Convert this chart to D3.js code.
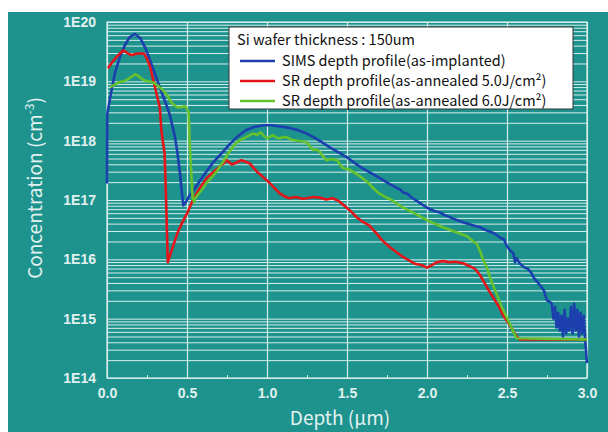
<!DOCTYPE html>
<html>
<head>
<meta charset="utf-8">
<script src="https://cdn.jsdelivr.net/npm/d3@7"></script>
<style>
  body { margin: 0; background: #fff; }
  svg { display: block; }
</style>
</head>
<body>
<script>
const width = 608;
const height = 432;

const simsDepth = [0.000, 0.002, 0.02, 0.05, 0.08, 0.11, 0.14, 0.175, 0.21, 0.24, 0.27, 0.30, 0.33, 0.36, 0.39, 0.425, 0.44, 0.456, 0.465, 0.477, 0.49, 0.51, 0.54, 0.60, 0.66, 0.72, 0.77, 0.82, 0.87, 0.92, 0.98, 1.03, 1.08, 1.13, 1.19, 1.24, 1.29, 1.34, 1.39, 1.45, 1.50, 1.55, 1.60, 1.66, 1.71, 1.76, 1.80, 1.83, 1.85, 1.88, 1.90, 1.95, 2.00, 2.05, 2.08, 2.10, 2.16, 2.22, 2.28, 2.33, 2.37, 2.42, 2.46, 2.48, 2.50, 2.52, 2.54, 2.55, 2.56, 2.58, 2.61, 2.63, 2.65, 2.67, 2.69, 2.71, 2.73, 2.75, 2.77, 2.78, 2.79, 2.80, 2.81, 2.82, 2.83, 2.84, 2.85, 2.86, 2.87, 2.88, 2.89, 2.90, 2.91, 2.92, 2.93, 2.94, 2.95, 2.96, 2.97, 2.98, 2.99, 3.00];
const simsLog = [17.28, 18.45, 18.73, 19.15, 19.40, 19.60, 19.74, 19.80, 19.72, 19.56, 19.35, 19.12, 18.90, 18.68, 18.46, 18.06, 17.80, 17.45, 17.20, 16.91, 16.95, 17.05, 17.16, 17.40, 17.62, 17.80, 17.95, 18.08, 18.18, 18.23, 18.26, 18.26, 18.24, 18.22, 18.18, 18.13, 18.06, 17.98, 17.89, 17.80, 17.72, 17.62, 17.53, 17.44, 17.36, 17.28, 17.22, 17.18, 17.13, 17.10, 17.05, 16.96, 16.87, 16.81, 16.79, 16.76, 16.69, 16.63, 16.58, 16.54, 16.49, 16.44, 16.36, 16.34, 16.22, 16.15, 16.10, 15.95, 16.02, 15.93, 15.86, 15.84, 15.78, 15.68, 15.62, 15.55, 15.48, 15.31, 15.28, 15.25, 15.00, 15.20, 14.85, 15.10, 14.80, 15.05, 14.70, 15.15, 14.75, 15.00, 14.80, 15.20, 14.75, 15.25, 14.80, 15.15, 14.70, 15.10, 14.75, 15.05, 14.60, 14.25];

const sr5Depth = [0.006, 0.04, 0.06, 0.10, 0.12, 0.15, 0.19, 0.23, 0.25, 0.27, 0.30, 0.33, 0.34, 0.36, 0.37, 0.38, 0.41, 0.44, 0.47, 0.50, 0.54, 0.58, 0.62, 0.66, 0.69, 0.72, 0.75, 0.78, 0.80, 0.84, 0.87, 0.89, 0.94, 0.97, 1.00, 1.04, 1.08, 1.11, 1.14, 1.18, 1.22, 1.25, 1.29, 1.33, 1.37, 1.41, 1.45, 1.48, 1.52, 1.56, 1.60, 1.64, 1.68, 1.72, 1.77, 1.81, 1.85, 1.89, 1.93, 1.97, 2.00, 2.03, 2.06, 2.10, 2.14, 2.18, 2.23, 2.27, 2.30, 2.33, 2.36, 2.39, 2.42, 2.45, 2.48, 2.52, 2.56, 2.58, 3.00];
const sr5Log = [19.22, 19.35, 19.41, 19.52, 19.49, 19.44, 19.47, 19.47, 19.38, 19.24, 18.90, 18.56, 18.17, 17.78, 16.94, 15.95, 16.20, 16.44, 16.62, 16.77, 17.02, 17.20, 17.36, 17.46, 17.53, 17.60, 17.67, 17.60, 17.62, 17.67, 17.64, 17.62, 17.47, 17.40, 17.33, 17.22, 17.11, 17.06, 17.03, 17.05, 17.02, 17.03, 17.05, 17.04, 17.01, 17.03, 16.98, 16.91, 16.82, 16.71, 16.63, 16.57, 16.45, 16.32, 16.20, 16.12, 16.04, 15.98, 15.92, 15.90, 15.86, 15.90, 15.95, 15.97, 15.95, 15.96, 15.93, 15.88, 15.84, 15.74, 15.60, 15.46, 15.33, 15.20, 15.04, 14.88, 14.70, 14.65, 14.65];

const sr6Depth = [0.02, 0.05, 0.07, 0.10, 0.12, 0.15, 0.18, 0.20, 0.23, 0.26, 0.29, 0.32, 0.35, 0.38, 0.40, 0.42, 0.44, 0.47, 0.49, 0.51, 0.52, 0.535, 0.545, 0.55, 0.59, 0.62, 0.66, 0.69, 0.72, 0.75, 0.78, 0.81, 0.84, 0.87, 0.91, 0.94, 0.96, 0.98, 1.00, 1.02, 1.04, 1.06, 1.08, 1.10, 1.12, 1.15, 1.19, 1.22, 1.25, 1.27, 1.29, 1.31, 1.33, 1.35, 1.37, 1.40, 1.44, 1.46, 1.48, 1.51, 1.54, 1.57, 1.60, 1.63, 1.66, 1.70, 1.74, 1.78, 1.81, 1.86, 1.91, 1.96, 2.00, 2.05, 2.10, 2.15, 2.20, 2.25, 2.29, 2.31, 2.33, 2.35, 2.37, 2.40, 2.44, 2.47, 2.50, 2.53, 2.56, 3.00];
const sr6Log = [18.90, 18.95, 18.98, 19.00, 19.02, 19.07, 19.12, 19.08, 19.02, 19.00, 18.98, 18.92, 18.85, 18.75, 18.65, 18.60, 18.56, 18.57, 18.58, 18.48, 17.78, 17.04, 16.96, 17.03, 17.16, 17.28, 17.40, 17.50, 17.62, 17.75, 17.87, 17.97, 18.02, 18.06, 18.12, 18.10, 18.14, 18.08, 18.04, 18.07, 18.09, 18.05, 18.04, 18.06, 18.06, 18.02, 18.00, 17.99, 17.97, 17.90, 17.84, 17.85, 17.81, 17.74, 17.67, 17.69, 17.67, 17.58, 17.53, 17.52, 17.47, 17.42, 17.36, 17.30, 17.21, 17.11, 17.05, 17.00, 16.94, 16.86, 16.79, 16.72, 16.66, 16.60, 16.54, 16.49, 16.44, 16.39, 16.30, 16.27, 16.15, 16.00, 15.89, 15.65, 15.38, 15.18, 15.01, 14.84, 14.67, 14.65];

const xTicks = [0, 0.5, 1.0, 1.5, 2.0, 2.5, 3.0];
const yTickExps = [14, 15, 16, 17, 18, 19, 20];
const legendTitle = "Si wafer thickness : 150um";
const seriesNames = ["SIMS depth profile(as-implanted)", "SR depth profile(as-annealed 5.0J/cm²)", "SR depth profile(as-annealed 6.0J/cm²)"];
const seriesColors = ["#1c3fae", "#e3141a", "#66c22c"];

const plot = { left: 107, right: 587, top: 22, bottom: 378 };

const svg = d3.select("body").append("svg")
  .attr("width", width)
  .attr("height", height);

// Teal panel behind everything.
svg.append("rect")
  .attr("x", 8).attr("y", 12)
  .attr("width", width - 8).attr("height", height - 12)
  .attr("fill", "#1e938e");

const x = d3.scaleLinear().domain([0, 3]).range([plot.left, plot.right]);
const y = d3.scaleLog().domain([1e14, 1e20]).range([plot.bottom, plot.top]);

// Horizontal grid at every log step.
const gridVals = [];
for (let e = 14; e < 20; e++) {
  for (let k = 1; k <= 9; k++) gridVals.push(k * Math.pow(10, e));
}
gridVals.push(1e20);

const gridColor = "#d6eeeb";

svg.append("g")
  .attr("transform", `translate(${plot.left},0)`)
  .call(d3.axisLeft(y).tickValues(gridVals).tickSize(-(plot.right - plot.left)).tickFormat(""))
  .call(g => g.select(".domain").remove())
  .call(g => g.selectAll("line").attr("stroke", gridColor).attr("stroke-width", 1));

svg.append("g")
  .attr("transform", `translate(0,${plot.bottom})`)
  .call(d3.axisBottom(x).tickValues(xTicks).tickSize(-(plot.bottom - plot.top)).tickFormat(""))
  .call(g => g.select(".domain").remove())
  .call(g => g.selectAll("line").attr("stroke", gridColor).attr("stroke-width", 1.2));

// Small minor ticks at the bottom.
svg.append("g")
  .attr("transform", `translate(0,${plot.bottom})`)
  .call(d3.axisBottom(x).tickValues([0.25, 0.75, 1.25, 1.75, 2.25, 2.75]).tickSize(-3).tickFormat(""))
  .call(g => g.select(".domain").remove())
  .call(g => g.selectAll("line").attr("stroke", gridColor));

svg.append("rect")
  .attr("x", plot.left).attr("y", plot.top)
  .attr("width", plot.right - plot.left).attr("height", plot.bottom - plot.top)
  .attr("fill", "none")
  .attr("stroke", gridColor)
  .attr("stroke-width", 1.2);

// Tick labels.
const tickFont = "'Liberation Sans', Arial, sans-serif";
const labelColor = "#e2f1ef";

svg.append("g")
  .attr("transform", `translate(${plot.left},0)`)
  .call(d3.axisLeft(y).tickValues(yTickExps.map(e => Math.pow(10, e))).tickSize(0).tickPadding(11)
    .tickFormat(d => "1E" + Math.round(Math.log10(d))))
  .call(g => g.select(".domain").remove())
  .call(g => g.selectAll("text")
    .attr("fill", labelColor)
    .style("font-family", tickFont)
    .style("font-size", "14px")
    .style("font-weight", "bold"));

svg.append("g")
  .attr("transform", `translate(0,${plot.bottom})`)
  .call(d3.axisBottom(x).tickValues(xTicks).tickSize(0).tickPadding(10).tickFormat(d3.format(".1f")))
  .call(g => g.select(".domain").remove())
  .call(g => g.selectAll("text")
    .attr("fill", labelColor)
    .style("font-family", tickFont)
    .style("font-size", "14px")
    .style("font-weight", "bold"));

// Axis titles.
const titleFont = "'Noto Sans CJK JP', 'Noto Sans', sans-serif";

svg.append("text")
  .attr("x", 340).attr("y", 425)
  .attr("text-anchor", "middle")
  .attr("fill", labelColor)
  .style("font-family", titleFont)
  .style("font-size", "19px")
  .text("Depth (μm)");

const yTitle = svg.append("text")
  .attr("transform", "translate(42,188) rotate(-90)")
  .attr("text-anchor", "middle")
  .attr("fill", labelColor)
  .style("font-family", titleFont)
  .style("font-size", "19px");
yTitle.append("tspan").text("Concentration (cm");
yTitle.append("tspan").attr("dy", -8).style("font-size", "12px").text("-3");
yTitle.append("tspan").attr("dy", 8).text(")");

// Curves.
const series = [
  { depth: simsDepth, conc: simsLog },
  { depth: sr5Depth, conc: sr5Log },
  { depth: sr6Depth, conc: sr6Log }
];

const line = d3.line()
  .x(d => x(d[0]))
  .y(d => y(Math.pow(10, d[1])));

series.forEach((s, i) => {
  const pts = s.depth.map((d, j) => [d, s.conc[j]]);
  svg.append("path")
    .datum(pts)
    .attr("fill", "none")
    .attr("stroke", seriesColors[i])
    .attr("stroke-width", 2.6)
    .attr("stroke-linejoin", "round")
    .attr("d", line);
});

// Legend box.
const legend = svg.append("g").attr("transform", "translate(229,27)");
legend.append("rect")
  .attr("width", 344).attr("height", 82)
  .attr("fill", "#fff")
  .attr("stroke", "#333")
  .attr("stroke-width", 1);

const legendFont = "'Noto Sans CJK JP', sans-serif";
legend.append("text")
  .attr("x", 8).attr("y", 18)
  .attr("fill", "#111")
  .style("font-family", legendFont)
  .style("font-size", "14.5px")
  .text(legendTitle);

seriesNames.forEach((name, i) => {
  const cy = 34 + i * 20;
  legend.append("line")
    .attr("x1", 11).attr("x2", 46)
    .attr("y1", cy).attr("y2", cy)
    .attr("stroke", seriesColors[i])
    .attr("stroke-width", 2.6);
  legend.append("text")
    .attr("x", 53).attr("y", cy + 5)
    .attr("fill", "#111")
    .style("font-family", legendFont)
    .style("font-size", "14.5px")
    .text(name);
});
</script>
</body>
</html>
